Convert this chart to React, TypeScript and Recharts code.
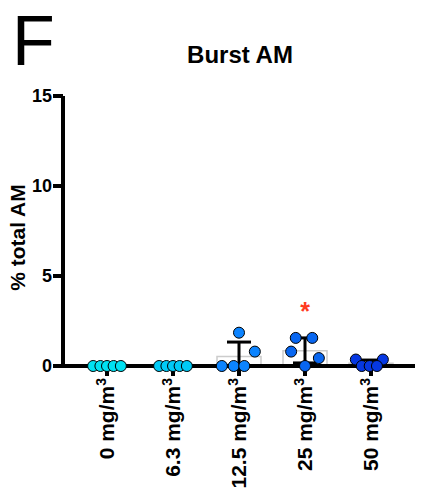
import { Bar, ComposedChart, ErrorBar, Scatter, XAxis, YAxis } from "recharts";

const FONT = '"Liberation Sans", Arial, sans-serif';

// dose groups (x categories)
const doses = ["0 mg/m³", "6.3 mg/m³", "12.5 mg/m³", "25 mg/m³", "50 mg/m³"];
const colors = ["#00E1F2", "#00CAF6", "#0C84FF", "#0866F0", "#0638E2"];

// group mean and SD (lower, upper)
const means = [0, 0, 0.53, 0.85, 0.15];
const errLow = [0, 0, 0.53, 0.68, 0.15];
const errHigh = [0, 0, 0.8, 0.71, 0.18];

// individual animals per group
const values = [
	[0, 0, 0, 0, 0],
	[0, 0, 0, 0, 0],
	[1.85, 0.8, 0, 0, 0],
	[1.56, 1.56, 0.8, 0.44, 0],
	[0.36, 0.36, 0, 0, 0],
];
// horizontal scatter of the dots, in category units
const jitter = [
	[-0.21, -0.1, 0, 0.1, 0.21],
	[-0.21, -0.1, 0, 0.1, 0.21],
	[0, 0.24, -0.26, -0.08, 0.08],
	[-0.14, 0.11, -0.21, 0.21, 0],
	[-0.23, 0.18, -0.14, -0.02, 0.09],
];

const yTicks = [0, 5, 10, 15];
const sigMarks = [{ x: 3, y: 3.4 }];

const groups = doses.map((dose, i) => ({ dose, mean: means[i] }));
const points = values.map((vals, i) =>
	vals.map((v, j) => ({ x: i + jitter[i][j], y: v })),
);
const meanPoints = doses
	.map((_, i) => ({ x: i, y: means[i], err: [errLow[i], errHigh[i]] }))
	.filter((d) => d.err[1] > 0);

const XTick = ({ x, y, payload }: any) => {
	const base = String(payload.value).replace("³", "");
	return (
		<g transform={`translate(${x},${y})`}>
			<text
				transform="rotate(-90)"
				x={0}
				y={7}
				textAnchor="end"
				fontSize={21}
				fontWeight="bold"
				fontFamily={FONT}
				fill="#000"
			>
				{base}
				<tspan dy={-8} fontSize={14}>
					3
				</tspan>
			</text>
		</g>
	);
};

const YTick = ({ x, y, payload }: any) => (
	<text
		x={x}
		y={y}
		dy={6}
		textAnchor="end"
		fontSize={18}
		fontWeight="bold"
		fontFamily={FONT}
		fill="#000"
	>
		{payload.value}
	</text>
);

export default function App() {
	return (
		<div style={{ position: "absolute", left: 0, top: 0, width: 426, height: 490 }}>
			<ComposedChart
				width={426}
				height={490}
				data={groups}
				margin={{ top: 96, right: 11, bottom: 0, left: 0 }}
			>
				<XAxis
					xAxisId="cat"
					dataKey="dose"
					type="category"
					height={124}
					padding={{ left: 11, right: 11 }}
					stroke="#000"
					strokeWidth={4}
					tickSize={10}
					interval={0}
					tick={<XTick />}
				/>
				<XAxis
					xAxisId="num"
					dataKey="x"
					type="number"
					domain={[-0.5, 4.5]}
					padding={{ left: 11, right: 11 }}
					allowDataOverflow
					hide
				/>
				<YAxis
					dataKey="y"
					type="number"
					domain={[0, 15]}
					ticks={yTicks}
					interval={0}
					width={63}
					stroke="#000"
					strokeWidth={4}
					tickSize={10}
					tickMargin={1}
					tick={<YTick />}
				/>
				<Bar
					xAxisId="cat"
					dataKey="mean"
					barSize={44}
					fill="none"
					stroke="#cccccc"
					strokeWidth={1.5}
					isAnimationActive={false}
				/>
				{points.map((pts, i) => (
					<Scatter
						key={doses[i]}
						xAxisId="num"
						data={pts}
						isAnimationActive={false}
						shape={(p: any) => (
							<circle cx={p.cx} cy={p.cy} r={5.5} fill={colors[i]} stroke="#000" strokeWidth={1} />
						)}
					/>
				))}
				<Scatter
					xAxisId="num"
					data={meanPoints}
					isAnimationActive={false}
					shape={() => <g />}
				>
					<ErrorBar dataKey="err" direction="y" width={12} stroke="#000" strokeWidth={3} />
				</Scatter>
				<Scatter
					xAxisId="num"
					data={sigMarks}
					isAnimationActive={false}
					shape={(p: any) => (
						<text
							x={p.cx}
							y={p.cy + 15}
							textAnchor="middle"
							fontSize={25}
							fontWeight="bold"
							fontFamily={FONT}
							fill="#FF3B1F"
						>
							*
						</text>
					)}
				/>
			</ComposedChart>
			<svg
				width={426}
				height={490}
				style={{ position: "absolute", left: 0, top: 0, pointerEvents: "none" }}
			>
				<text x={12} y={65} fontSize={70} fontFamily={FONT} fill="#000">
					F
				</text>
				<text x={240} y={63} textAnchor="middle" fontSize={24} fontWeight="bold" fontFamily={FONT} fill="#000">
					Burst AM
				</text>
				<text
					transform="translate(25,237.5) rotate(-90)"
					textAnchor="middle"
					fontSize={21}
					fontWeight="bold"
					fontFamily={FONT}
					fill="#000"
				>
					% total AM
				</text>
			</svg>
		</div>
	);
}
